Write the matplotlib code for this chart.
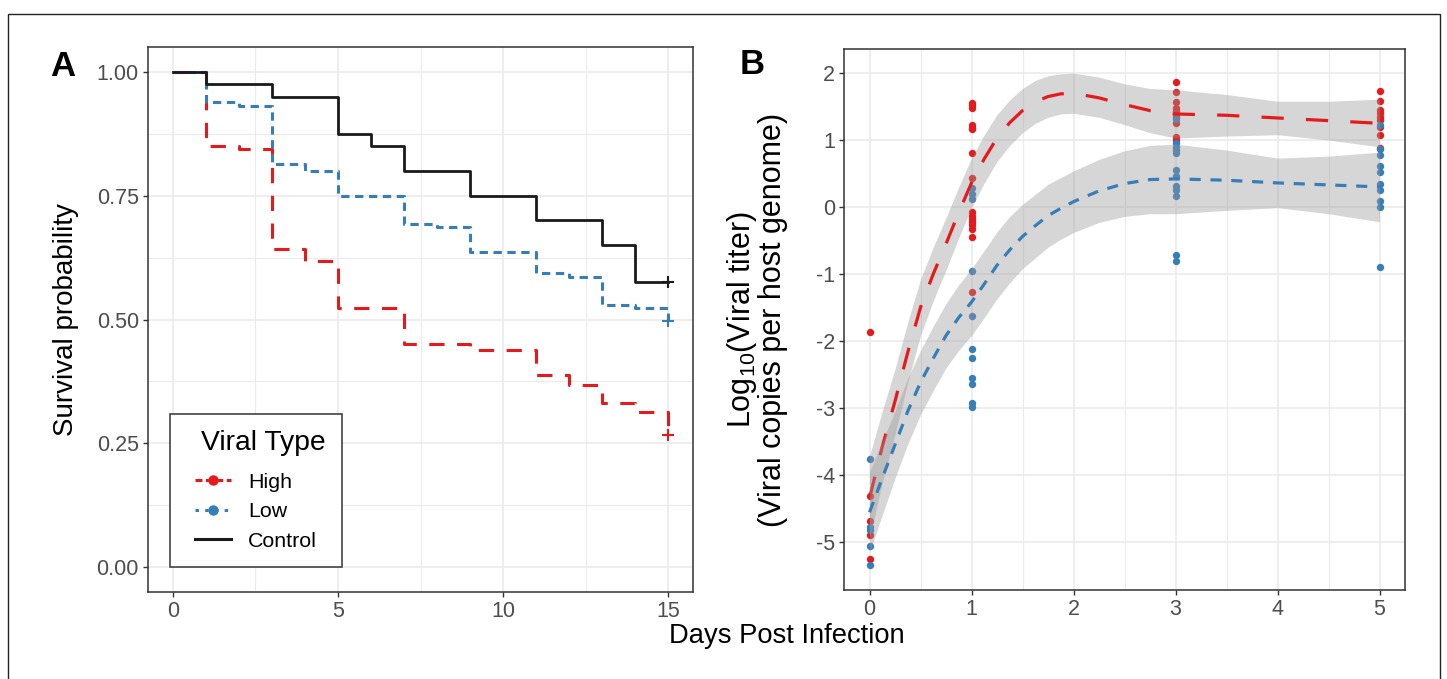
import matplotlib
matplotlib.use('Agg')
import matplotlib.pyplot as plt
import numpy as np
from matplotlib.lines import Line2D
from matplotlib.patches import Rectangle
from matplotlib.ticker import MultipleLocator
from matplotlib.offsetbox import HPacker, VPacker, DrawingArea

plt.rcParams['font.family'] = ['Liberation Sans', 'DejaVu Sans']
plt.rcParams['mathtext.fontset'] = 'custom'
plt.rcParams['mathtext.rm'] = 'Liberation Sans'
plt.rcParams['mathtext.it'] = 'Liberation Sans:italic'
plt.rcParams['lines.scale_dashes'] = False
plt.rcParams['axes.unicode_minus'] = False

RED = '#E41A1C'
BLUE = '#377EB8'
BLACK = '#1A1A1A'
GRID = '#EBEBEB'
TICKC = '#4D4D4D'
FRAME = '#333333'

# ---------------- Panel A: survival curves ----------------
group_labels = ['High', 'Low', 'Control']

high_t = [0, 1, 2, 3, 4, 5, 7, 9, 11, 12, 13, 14, 15]
high_s = [1.0, 0.85, 0.845, 0.642, 0.618, 0.524, 0.450, 0.438, 0.387, 0.368, 0.331, 0.3125, 0.266]

low_t = [0, 1, 2, 3, 4, 5, 7, 8, 9, 11, 12, 13, 14, 15]
low_s = [1.0, 0.94, 0.931, 0.813, 0.80, 0.75, 0.693, 0.687, 0.637, 0.594, 0.586, 0.530, 0.524, 0.497]

ctrl_t = [0, 1, 3, 5, 6, 7, 9, 11, 13, 14, 15]
ctrl_s = [1.0, 0.975, 0.95, 0.875, 0.85, 0.80, 0.75, 0.70, 0.65, 0.575, 0.575]

survA_xticks = [0, 5, 10, 15]
survA_yticks = [0.0, 0.25, 0.50, 0.75, 1.00]
survA_yticklabels = ['0.00', '0.25', '0.50', '0.75', '1.00']

# ---------------- Panel B: viral titer ----------------
high_pts_day = [0] * 5 + [1] * 16 + [3] * 10 + [5] * 9
high_pts_val = [-1.87, -4.31, -4.69, -4.90, -5.26,
                1.56, 1.52, 1.48, 1.22, 1.18, 1.16, 0.81, 0.43,
                -0.08, -0.13, -0.18, -0.23, -0.27, -0.33, -0.45, -1.27,
                1.86, 1.72, 1.57, 1.48, 1.43, 1.39, 1.35, 1.25, 1.04, 1.00,
                1.73, 1.58, 1.45, 1.40, 1.35, 1.30, 1.19, 1.08, 0.88]

low_pts_day = [0] * 5 + [1] * 11 + [3] * 12 + [5] * 10
low_pts_val = [-3.77, -4.78, -4.82, -5.07, -5.35,
               0.28, 0.20, 0.12, -0.95, -1.63, -2.12, -2.26, -2.55, -2.65, -2.92, -2.98,
               1.32, 0.96, 0.90, 0.85, 0.80, 0.56, 0.46, 0.32, 0.25, 0.16, -0.72, -0.80,
               1.23, 0.87, 0.77, 0.62, 0.52, 0.35, 0.26, 0.09, 0.00, -0.89]

fit_day = [0, 0.125, 0.25, 0.375, 0.5, 0.625, 0.75, 0.875, 1.0, 1.125, 1.25, 1.375,
           1.5, 1.625, 1.75, 1.875, 2.0, 2.25, 2.5, 2.75, 3.0, 3.5, 4.0, 4.5, 5.0]

high_fit = [-4.35, -3.58, -2.90, -2.17, -1.50, -1.00, -0.55, -0.08, 0.36, 0.72, 1.03, 1.26,
            1.44, 1.57, 1.65, 1.69, 1.70, 1.63, 1.53, 1.44, 1.39, 1.37, 1.33, 1.29, 1.25]
high_lo = [-4.95, -4.12, -3.40, -2.62, -1.92, -1.40, -0.94, -0.46, -0.01, 0.36, 0.68, 0.92,
           1.11, 1.25, 1.34, 1.39, 1.40, 1.34, 1.23, 1.11, 1.03, 1.06, 1.08, 1.00, 0.90]
high_hi = [-3.72, -3.05, -2.42, -1.72, -1.08, -0.60, -0.16, 0.30, 0.73, 1.08, 1.38, 1.60,
           1.77, 1.89, 1.96, 1.99, 2.00, 1.94, 1.84, 1.77, 1.75, 1.68, 1.58, 1.58, 1.61]

low_fit = [-4.56, -4.05, -3.55, -3.05, -2.62, -2.26, -1.92, -1.65, -1.42, -1.15, -0.87, -0.64,
           -0.44, -0.28, -0.13, -0.02, 0.08, 0.24, 0.35, 0.41, 0.42, 0.40, 0.36, 0.33, 0.30]
low_lo = [-5.16, -4.60, -4.05, -3.54, -3.10, -2.74, -2.40, -2.14, -1.92, -1.65, -1.37, -1.13,
          -0.92, -0.76, -0.60, -0.48, -0.38, -0.23, -0.14, -0.10, -0.10, -0.05, -0.01, -0.10, -0.22]
low_hi = [-3.96, -3.50, -3.05, -2.56, -2.14, -1.78, -1.44, -1.16, -0.92, -0.65, -0.37, -0.14,
          0.04, 0.19, 0.34, 0.44, 0.54, 0.71, 0.84, 0.92, 0.94, 0.85, 0.73, 0.76, 0.82]

titer_xticks = [0, 1, 2, 3, 4, 5]
titer_yticks = [-5, -4, -3, -2, -1, 0, 1, 2]

# ---------------- Figure ----------------
W, H = 1447, 679
fig = plt.figure(figsize=(W / 100, H / 100), dpi=100)

# thin outer frame of the figure
fig.add_artist(Rectangle((8 / W, -0.05), (1440 - 8) / W, 1 - 14 / H + 0.05,
                         transform=fig.transFigure, fill=False, lw=1.0,
                         edgecolor='#222222', clip_on=False))


def px_axes(l, t, r, b):
    return fig.add_axes([l / W, 1 - b / H, (r - l) / W, (b - t) / H])


def style_axes(ax):
    for s in ax.spines.values():
        s.set_color(FRAME)
        s.set_linewidth(1.1)
    ax.tick_params(which='major', direction='out', length=3.5, width=1.0, color=FRAME,
                   labelcolor=TICKC, labelsize=15.5, pad=3)
    ax.tick_params(which='minor', length=0)
    ax.grid(which='major', color=GRID, lw=1.2, zorder=0)
    ax.grid(which='minor', color=GRID, lw=0.8, zorder=0)
    ax.set_axisbelow(True)


axA = px_axes(148, 47, 693, 592)
style_axes(axA)
axA.step(high_t, high_s, where='post', color=RED, lw=2.2, dashes=(11, 9), zorder=3)
axA.step(low_t, low_s, where='post', color=BLUE, lw=2.2, dashes=(6, 4), zorder=3)
axA.step(ctrl_t, ctrl_s, where='post', color=BLACK, lw=2.0, zorder=3)
for t, s, c in [(high_t, high_s, RED), (low_t, low_s, BLUE), (ctrl_t, ctrl_s, BLACK)]:
    axA.plot([t[-1]], [s[-1]], marker='+', ms=9, mew=1.5, color=c, ls='none', zorder=4)

axA.set_xlim(-0.75, 15.75)
axA.set_ylim(-0.05, 1.05)
axA.set_xticks(survA_xticks)
axA.set_yticks(survA_yticks)
axA.set_yticklabels(survA_yticklabels)
axA.xaxis.set_minor_locator(MultipleLocator(2.5))
axA.yaxis.set_minor_locator(MultipleLocator(0.125))
axA.set_ylabel('Survival probability', fontsize=20, color='black', labelpad=13)

handles = [
    Line2D([0], [0], color=RED, lw=2.2, dashes=(5, 2.5), marker='o', ms=6.5),
    Line2D([0], [0], color=BLUE, lw=2.2, dashes=(2.5, 4.5), marker='o', ms=6.5),
    Line2D([0], [0], color=BLACK, lw=2.2),
]
leg = axA.legend(handles, group_labels, title='Viral Type', loc='lower left',
                 bbox_to_anchor=(0.0404, 0.0459), borderaxespad=0, fancybox=False,
                 edgecolor=FRAME, framealpha=1, fontsize=15.4, title_fontsize=20.3,
                 handlelength=1.7, handletextpad=0.8, labelspacing=0.5,
                 borderpad=0.75, numpoints=1, alignment='center')
leg.get_frame().set_linewidth(1.1)
# indent the legend title and add a little room beneath it (as in the original)
try:
    title_box = leg._legend_title_box
    new_title = VPacker(children=[HPacker(children=[DrawingArea(11, 1), title_box],
                                          pad=0, sep=0, align='center'),
                                  DrawingArea(1, 4)], pad=0, sep=0, align='left')
    leg._legend_box._children[0] = new_title
except Exception:
    pass

# Panel B
axB = px_axes(844, 49, 1405, 590)
style_axes(axB)
axB.scatter(high_pts_day, high_pts_val, s=28, color=RED, lw=0, zorder=2)
axB.scatter(low_pts_day, low_pts_val, s=28, color=BLUE, lw=0, zorder=2)
axB.fill_between(fit_day, high_lo, high_hi, color='#999999', alpha=0.4, lw=0, zorder=3)
axB.plot(fit_day, high_fit, color=RED, lw=2.3, dashes=(16, 16), zorder=4)
axB.fill_between(fit_day, low_lo, low_hi, color='#999999', alpha=0.4, lw=0, zorder=5)
axB.plot(fit_day, low_fit, color=BLUE, lw=2.3, dashes=(8, 7), zorder=6)

axB.set_xlim(-0.25, 5.25)
axB.set_ylim(-5.72, 2.36)
axB.set_xticks(titer_xticks)
axB.set_yticks(titer_yticks)
axB.xaxis.set_minor_locator(MultipleLocator(0.5))
axB.set_ylabel('Log$_{10}$(Viral titer)\n(Viral copies per host genome)', fontsize=22,
               color='black', labelpad=20, linespacing=0.95)

fig.text(787 / W, 1 - 636 / H, 'Days Post Infection', fontsize=19.7, ha='center', va='center')
fig.text(63 / W, 1 - 66 / H, 'A', fontsize=25, fontweight='bold', ha='center', va='center')
fig.text(752 / W, 1 - 64 / H, 'B', fontsize=25, fontweight='bold', ha='center', va='center')

fig.savefig('out.png', dpi=100)
